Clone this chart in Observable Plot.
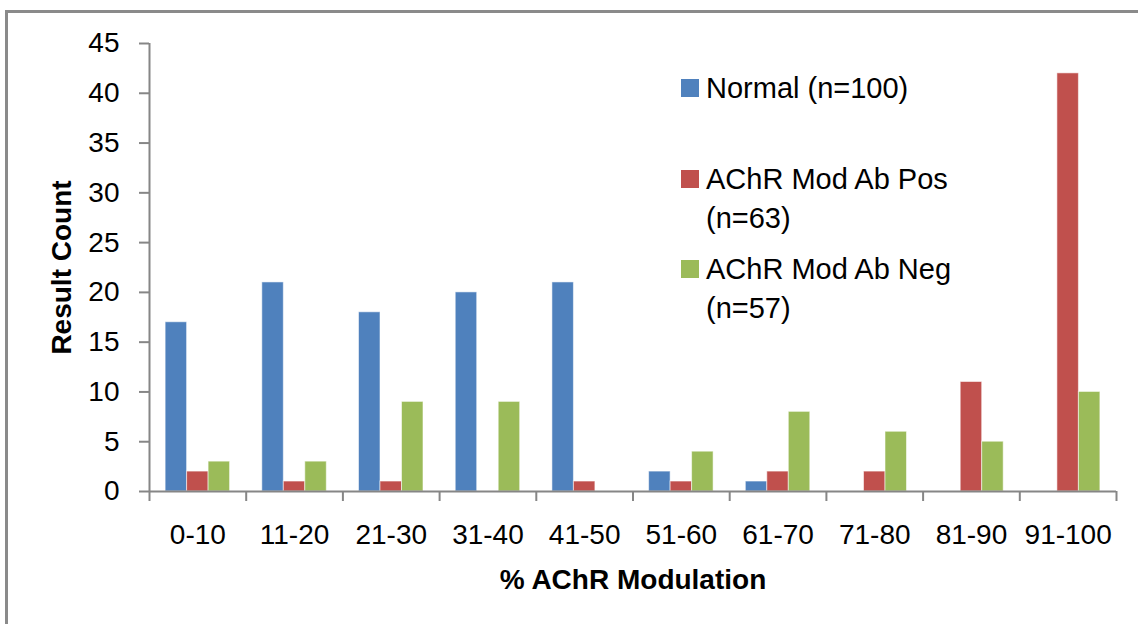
<!DOCTYPE html>
<html>
<head>
<meta charset="utf-8">
<script src="https://cdn.jsdelivr.net/npm/d3@7"></script>
<script src="https://cdn.jsdelivr.net/npm/@observablehq/plot@0.6"></script>
<style>
  html, body { margin: 0; padding: 0; background: #fff; overflow: hidden; width: 1138px; height: 624px; }
  #wrap { position: relative; width: 1138px; height: 624px; overflow: hidden; font-family: "Liberation Sans", Arial, sans-serif; }
  #frame { position: absolute; left: 5px; top: 10px; width: 2000px; height: 2000px; border: 3px solid #8a8a8a; box-sizing: border-box; }
  #chart { position: absolute; left: 0; top: 0; }
  .leg { position: absolute; font-size: 29px; line-height: 38px; color: #000; white-space: nowrap; }
  .sw { position: absolute; width: 18px; height: 18px; }
</style>
</head>
<body>
<div id="wrap">
  <div id="frame"></div>
  <div id="chart"></div>
  <div id="legend"></div>
</div>
<script>
const categories = ["0-10", "11-20", "21-30", "31-40", "41-50", "51-60", "61-70", "71-80", "81-90", "91-100"];
const seriesNames = ["Normal (n=100)", "AChR Mod Ab Pos (n=63)", "AChR Mod Ab Neg (n=57)"];
const seriesColors = ["#4F81BD", "#C0504D", "#9BBB59"];
const normal = [17, 21, 18, 20, 21, 2, 1, 0, 0, 0];
const modAbPos = [2, 1, 1, 0, 1, 1, 2, 2, 11, 42];
const modAbNeg = [3, 3, 9, 9, 0, 4, 8, 6, 5, 10];
const yTicks = [0, 5, 10, 15, 20, 25, 30, 35, 40, 45];

const seriesValues = [normal, modAbPos, modAbNeg];
const data = [];
categories.forEach((c, i) => {
  seriesValues.forEach((vals, k) => {
    data.push({cat: c, ci: i, k, series: seriesNames[k], value: vals[i]});
  });
});

// Excel-like clustered bars: gap width 150% -> bar width = 1/4.5 of a category
const w = 1 / 4.5;
const x1 = d => d.ci + 0.75 * w + d.k * w;
const x2 = d => d.ci + 0.75 * w + (d.k + 1) * w;

const axisColor = "#868686";

const chart = Plot.plot({
  width: 1138,
  height: 624,
  marginLeft: 149,
  marginRight: 22,
  marginTop: 43,
  marginBottom: 133,
  style: {fontFamily: "Liberation Sans, Arial, sans-serif", background: "transparent", color: "#000"},
  x: {type: "linear", domain: [0, categories.length], label: null},
  y: {domain: [0, 45], label: null},
  color: {domain: seriesNames, range: seriesColors},
  marks: [
    Plot.rectY(data.filter(d => d.value > 0), {
      x1, x2, y: "value", fill: "series",
      stroke: "white", strokeOpacity: 0.55, strokeWidth: 1
    }),
    Plot.ruleY([0], {stroke: axisColor, strokeWidth: 2}),
    Plot.ruleX([0], {stroke: axisColor, strokeWidth: 2}),
    Plot.axisY({ticks: yTicks, tickSize: 10, tickPadding: 20, fontSize: 28, stroke: axisColor, strokeWidth: 2, fill: "#000", strokeOpacity: 1, label: null}),
    Plot.axisX({ticks: d3.range(categories.length + 1), tickSize: 10, tickFormat: () => "", stroke: axisColor, strokeWidth: 2, strokeOpacity: 1, label: null}),
    Plot.axisX({ticks: categories.map((c, i) => i + 0.5), tickSize: 0, tickPadding: 33, fontSize: 28, fill: "#000", tickFormat: d => categories[Math.floor(d)], label: null}),
    Plot.text(["Result Count"], {frameAnchor: "left", textAnchor: "middle", lineAnchor: "middle", dx: -87, rotate: -90, fontSize: 28, fontWeight: "bold", fill: "#000"}),
    Plot.text(["% AChR Modulation"], {frameAnchor: "bottom", textAnchor: "middle", lineAnchor: "middle", dy: 89, fontSize: 28, fontWeight: "bold", fill: "#000"})
  ]
});
document.getElementById("chart").appendChild(chart);

// Legend (Excel-style, inside plot area at right)
const legendLines = [
  {k: 0, lines: ["Normal (n=100)"], cy: 88},
  {k: 1, lines: ["AChR Mod Ab Pos", "(n=63)"], cy: 179},
  {k: 2, lines: ["AChR Mod Ab Neg", "(n=57)"], cy: 269}
];
const leg = document.getElementById("legend");
legendLines.forEach(item => {
  const sw = document.createElement("div");
  sw.className = "sw";
  sw.style.left = "681px";
  sw.style.top = (item.cy - 9) + "px";
  sw.style.background = seriesColors[item.k];
  leg.appendChild(sw);
  item.lines.forEach((t, j) => {
    const d = document.createElement("div");
    d.className = "leg";
    d.style.left = "706px";
    d.style.top = (item.cy - 19 + j * 39) + "px";
    d.textContent = t;
    leg.appendChild(d);
  });
});
</script>
</body>
</html>
